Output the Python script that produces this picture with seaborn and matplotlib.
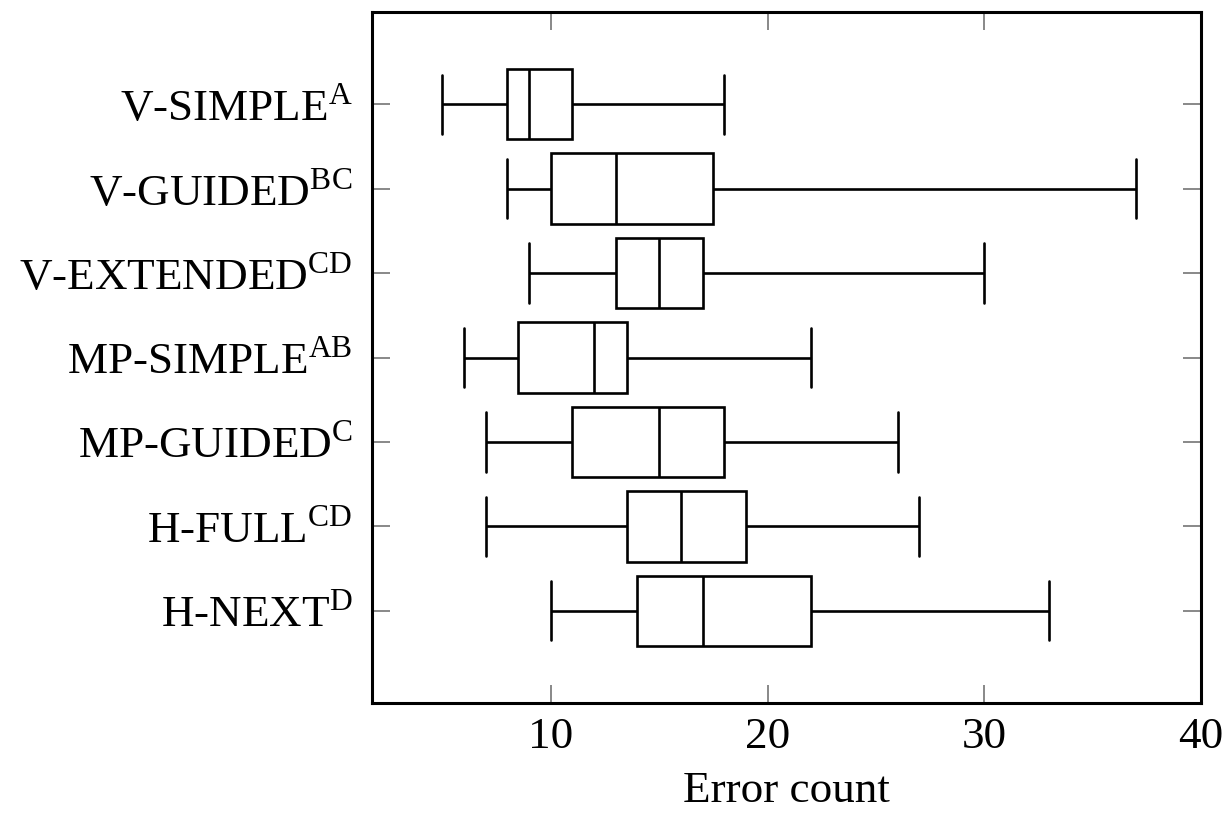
import numpy as np
import pandas as pd
import seaborn as sns
import matplotlib.pyplot as plt

# categories (with significance-group superscripts) and five-number summaries
methods = ["V-SIMPLE", "V-GUIDED", "V-EXTENDED", "MP-SIMPLE", "MP-GUIDED", "H-FULL", "H-NEXT"]
groups = ["A", "BC", "CD", "AB", "C", "CD", "D"]
whisker_low = [5, 8, 9, 6, 7, 7, 10]
q1 = [8, 10, 13, 8.5, 11, 13.5, 14]
median = [9, 13, 15, 12, 15, 16, 17]
q3 = [11, 17.5, 17, 13.5, 18, 19, 22]
whisker_high = [18, 37, 30, 22, 26, 27, 33]

labels = [f"{m}$^{{\\mathrm{{{g}}}}}$" for m, g in zip(methods, groups)]

# five points per method -> percentiles 0/25/50/75/100 land exactly on the summary values
rows = []
for lab, lo, a, m, b, hi in zip(labels, whisker_low, q1, median, q3, whisker_high):
    for v in (lo, a, m, b, hi):
        rows.append({"method": lab, "errors": v})
df = pd.DataFrame(rows)

sns.set_theme(style="white")
plt.rcParams["font.family"] = ["Liberation Serif", "DejaVu Serif"]
plt.rcParams["mathtext.fontset"] = "custom"
plt.rcParams["mathtext.rm"] = "Liberation Serif"
plt.rcParams["text.color"] = "black"
plt.rcParams["xtick.labelcolor"] = "black"
plt.rcParams["ytick.labelcolor"] = "black"
plt.rcParams["axes.labelcolor"] = "black"

fig = plt.figure(figsize=(12.26, 8.16), dpi=100)
ax = fig.add_axes([372 / 1226, 1 - 703 / 816, (1201 - 372) / 1226, (703 - 12) / 816])

sns.boxplot(data=df, x="errors", y="method", order=labels, whis=(0, 100),
            width=0.83, color="white", linecolor="black", linewidth=1.9,
            capwidths=0.7, ax=ax)

ax.set_xlim(1.75, 40)
ax.set_ylim(6 + 1.09, -1.09)
ax.set_xticks([10, 20, 30, 40])
ax.set_xlabel("Error count", fontsize=32.5, labelpad=10)
ax.set_ylabel("")

ax.tick_params(axis="both", which="major", direction="in", length=13, width=1.4,
               color="#888888", labelsize=32.5, labelcolor="black",
               top=True, right=True, bottom=True, left=True)
ax.tick_params(axis="y", pad=14)
ax.tick_params(axis="x", pad=10)
for sp in ax.spines.values():
    sp.set_visible(True)
    sp.set_color("black")
    sp.set_linewidth(2.2)

fig.savefig("out.png", dpi=100)
